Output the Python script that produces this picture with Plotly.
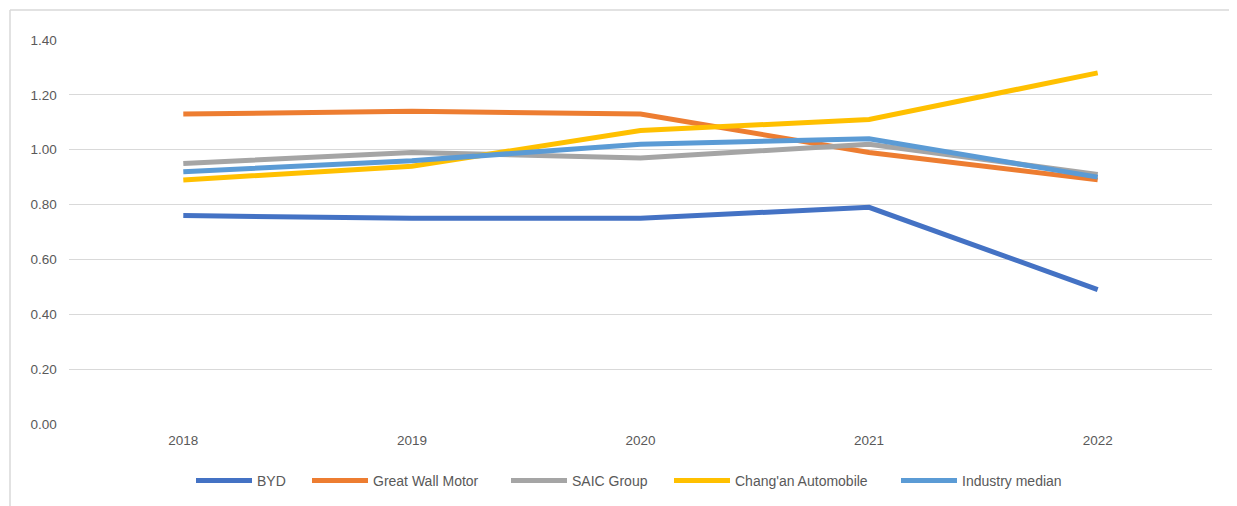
import plotly.graph_objects as go

years = ["2018", "2019", "2020", "2021", "2022"]
byd = [0.76, 0.75, 0.75, 0.79, 0.49]
great_wall = [1.13, 1.14, 1.13, 0.99, 0.89]
saic = [0.95, 0.99, 0.97, 1.02, 0.91]
changan = [0.89, 0.94, 1.07, 1.11, 1.28]
industry_median = [0.92, 0.96, 1.02, 1.04, 0.90]

series = [
    ("BYD", byd, "#4472C4"),
    ("Great Wall Motor", great_wall, "#ED7D31"),
    ("SAIC Group", saic, "#A5A5A5"),
    ("Chang'an Automobile", changan, "#FFC000"),
    ("Industry median", industry_median, "#5B9BD5"),
]
# left edge (pixels) of each legend entry's line sample in the reference
legend_starts = [197, 313, 512, 675, 902]

# page body has an 8px margin; compensate so the picture lands like the reference
OFF = 8
W, H = 1237 - OFF, 506 - OFF
ml = 69 - OFF
mt = 40 - OFF
mr = 1237 - 1212
mb = 506 - 424
pw, ph = W - ml - mr, H - mt - mb


def px_x(x):
    return (x - OFF - ml) / pw


def px_y(y):
    return (H - mb - (y - OFF)) / ph


fig = go.Figure()
legend_layouts = {}
for i, (name, vals, color) in enumerate(series):
    key = "legend" if i == 0 else f"legend{i + 1}"
    fig.add_trace(go.Scatter(
        x=years, y=vals, name=name, mode="lines",
        line=dict(color=color, width=5), legend=key,
    ))
    legend_layouts[key] = dict(
        orientation="h", x=px_x(legend_starts[i] - 6), xanchor="left",
        y=px_y(481), yanchor="middle", bgcolor="rgba(0,0,0,0)",
        font=dict(size=14, color="#595959"), itemwidth=56,
    )

fig.update_layout(
    width=W, height=H,
    margin=dict(l=ml, r=mr, t=mt, b=mb, autoexpand=False),
    paper_bgcolor="white", plot_bgcolor="white",
    font=dict(family="Liberation Sans, Arial, sans-serif", size=13, color="#595959"),
    xaxis=dict(
        type="category", range=[-0.5, 4.5], showgrid=False, zeroline=False,
        showline=False, ticks="", ticklabelstandoff=6, automargin=False,
        tickfont=dict(size=13.5, color="#595959"),
    ),
    yaxis=dict(
        range=[0, 1.4], dtick=0.2, tickformat=".2f", showgrid=True,
        gridcolor="#D9D9D9", gridwidth=1.3, zeroline=False, showline=False,
        ticks="", ticksuffix="   ", automargin=False,
        tickfont=dict(size=13.5, color="#595959"),
    ),
    showlegend=True,
    shapes=[
        dict(type="line", xref="paper", yref="paper",
             x0=px_x(10), x1=px_x(1245), y0=px_y(10), y1=px_y(10),
             line=dict(color="#D9D9D9", width=1.5)),
        dict(type="line", xref="paper", yref="paper",
             x0=px_x(10), x1=px_x(10), y0=px_y(10), y1=px_y(515),
             line=dict(color="#D9D9D9", width=1.5)),
    ],
    **legend_layouts,
)

fig.write_html(
    "out.html",
    post_script="document.documentElement.style.overflow='hidden';",
)
